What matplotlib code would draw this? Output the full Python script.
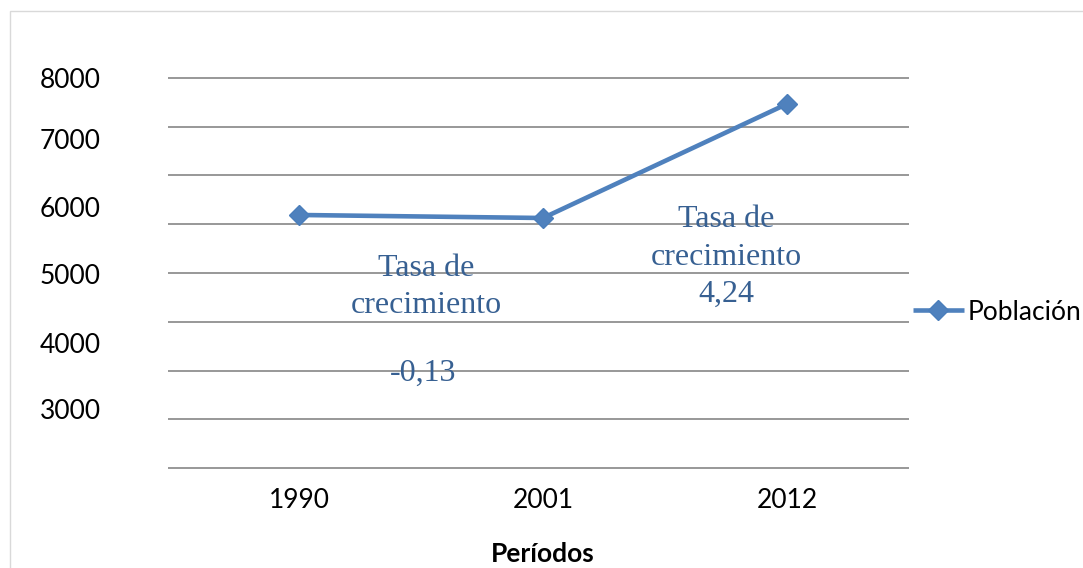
import matplotlib
matplotlib.use("Agg")
import matplotlib.pyplot as plt
from matplotlib.patches import Rectangle

periodos = ['1990', '2001', '2012']
poblacion = [5190, 5128, 7467]

# etiquetas del eje y tal como aparecen (no coinciden con las rejillas)
ytick_pos = [8000, 6749, 5344, 3979, 2574, 1210]
ytick_lab = ['8000', '7000', '6000', '5000', '4000', '3000']

tasa_1 = '-0,13'
tasa_2 = '4,24'

plt.rcParams['font.family'] = ['Lato', 'DejaVu Sans']

fig = plt.figure(figsize=(10.83, 5.68), dpi=100)
ax = fig.add_axes([177/1083, 98/568, 732/1083, 394/568])

x = range(len(periodos))
ax.plot(x, poblacion, color='#4F81BD', lw=3.3, marker='D', ms=10.5,
        mec='#4A7EBB', mfc='#4F81BD', label='Población', solid_capstyle='butt')

ax.set_xlim(-0.5, 2.5)
ax.set_ylim(-40, 8040)
ax.set_xticks(list(x))
ax.set_xticklabels(periodos)
ax.set_yticks(ytick_pos)
ax.set_yticklabels(ytick_lab)
ax.set_yticks(range(0, 8001, 1000), minor=True)
ax.yaxis.remove_overlapping_locs = False
ax.grid(True, which='minor', axis='y', color='#868686', lw=1.2)
ax.set_axisbelow(True)
for s in ax.spines.values():
    s.set_visible(False)
ax.tick_params(axis='y', which='major', length=0, pad=55, labelsize=19)
ax.tick_params(axis='y', which='minor', length=6.5, width=1.2, color='#868686')
ax.tick_params(axis='x', length=0, pad=13, labelsize=19)

ax.set_xlabel('Períodos', fontsize=19, fontweight='bold', labelpad=21)

serif = ['Liberation Serif', 'DejaVu Serif']
azul = '#376092'
ax.text(0.52, 3713, 'Tasa de\ncrecimiento', ha='center', va='center',
        fontsize=23, family=serif, color=azul, linespacing=1.37)
ax.text(0.51, 1949, tasa_1, ha='center', va='center',
        fontsize=23, family=serif, color=azul)
ax.text(1.75, 4328, 'Tasa de\ncrecimiento\n' + tasa_2, ha='center', va='center',
        fontsize=23, family=serif, color=azul, linespacing=1.37)

fig.legend(loc='center left', bbox_to_anchor=(913/1083, 1 - 312/568),
           frameon=False, fontsize=19, borderpad=0, borderaxespad=0,
           handlelength=1.93, handletextpad=0.15)

fig.patches.append(Rectangle((9.5/1083, -0.1), 2, (568 - 11.5)/568 + 0.1,
                             transform=fig.transFigure, fill=False,
                             edgecolor='#D9D9D9', lw=1))

fig.savefig('out.png', dpi=100)
